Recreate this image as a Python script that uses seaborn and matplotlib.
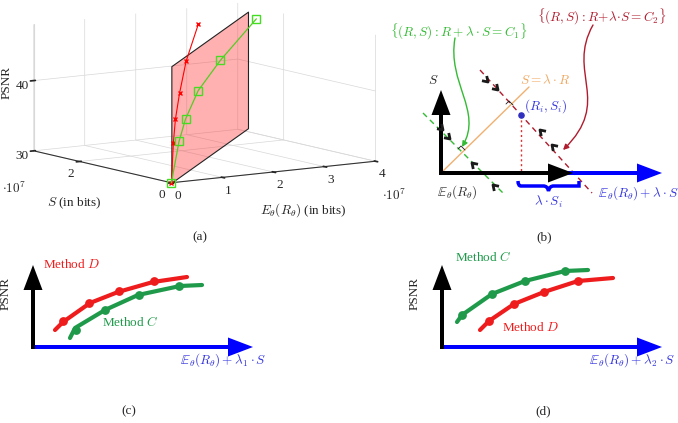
import numpy as np
import matplotlib
matplotlib.use("Agg")
import matplotlib.pyplot as plt
from matplotlib.markers import MarkerStyle
from matplotlib.path import Path
from matplotlib.patches import FancyArrowPatch, PathPatch
import seaborn as sns

sns.set_theme(style="white")
plt.rcParams['font.family'] = ['Liberation Serif', 'DejaVu Serif']
plt.rcParams['mathtext.fontset'] = 'cm'
plt.rcParams['font.size'] = 9.5
FS = 9.5

RED = '#ee1c1c'
GREEN = '#1f9a4a'
BLUE = '#0000ff'
TXT_BLUE = '#3535e0'

# ---- (a) 3D view, E and S in units of 1e7 bits
green_E = [0, 0.42, 0.79, 1.47, 2.68, 4.67]
green_S = [0, 0.30, 0.57, 1.05, 1.91, 3.34]
green_psnr = [30, 35.1, 37.6, 40.4, 42.5, 44.7]
red_E = [0, 0.04, 0.08, 0.16, 0.29, 0.53]
red_S = [0, 0, 0, 0, 0, 0]
red_psnr = [30, 35.7, 39.0, 42.6, 47.1, 52.2]
plane_E = [0, 4.2]
plane_S = [0, 3.0]
plane_psnr = [30, 46.6]

# ---- (b) schematic in the (R, S) plane
s_axis_end = (0, 83)
r_axis_end = (132, 0)
blue_axis_end = (221, 0)
orange_line = ([0, 88], [0, 86])
green_line = ([-18, 62], [60, -20])
red_line = ([39, 151], [103, -20])
point_i = (80, 58)
right_angles = [(21, 21), (69, 66)]
chev_down = [(2, 43), (9, 34), (47, 91), (57, 83)]
chev_up = [(31, 10), (52, -12), (99, 43), (111, 28)]
green_callout = [(14, 135), (6, 90), (42, 62), (21, 26)]
red_callout = [(152, 148), (125, 100), (172, 72), (122, 23)]
brace_x = (77, 138)

# ---- (c) and (d) sketches
c_red_x = [22, 30, 57, 85, 120, 154]
c_red_y = [17, 25, 44, 55, 65, 70]
c_red_dots_x = [30, 56, 86, 121]
c_red_dots_y = [26, 44, 56, 66]
c_green_x = [37, 42, 72, 105, 147, 169]
c_green_y = [9, 19, 37, 52, 61, 62]
c_green_dots_x = [43, 72, 106, 146]
c_green_dots_y = [17, 37, 52, 61]

d_green_x = [15, 20, 50, 83, 123, 146]
d_green_y = [25, 32, 53, 66, 76, 77]
d_green_dots_x = [20, 50, 83, 123]
d_green_dots_y = [32, 53, 66, 76]
d_red_x = [38, 47, 72, 102, 136, 171]
d_red_y = [17, 26, 43, 55, 66, 69]
d_red_dots_x = [47, 72, 102, 136]
d_red_dots_y = [26, 43, 55, 66]

W, H = 678, 423
fig = plt.figure(figsize=(W / 100, H / 100), dpi=100)


def px_axes(x0, y0, x1, y1, ox, oy):
    # axes covering pixel box (x0,y0)-(x1,y1), 1 data unit = 1 px, origin at (ox, oy)
    ax = fig.add_axes([x0 / W, 1 - y1 / H, (x1 - x0) / W, (y1 - y0) / H])
    ax.set_xlim(x0 - ox, x1 - ox)
    ax.set_ylim(oy - y1, oy - y0)
    ax.set_axis_off()
    return ax


def big_arrow(ax, start, end, color):
    ax.arrow(start[0], start[1], end[0] - start[0], end[1] - start[1], width=4,
             head_width=19, head_length=25, length_includes_head=True,
             color=color, lw=0, zorder=3)


# ---------------- (a)
ax3 = fig.add_axes([-0.013, 0.493, 0.62, 0.56], projection='3d', computed_zorder=False)
ax3.set_proj_type('ortho')
ax3.view_init(elev=9, azim=-124)
ax3.set_box_aspect((1, 1, 0.52), zoom=1.52)
ax3.set_xlim(0, 4)
ax3.set_ylim(0, 3)
ax3.set_zlim(30, 48)
for axis in (ax3.xaxis, ax3.yaxis, ax3.zaxis):
    axis.set_pane_color((1, 1, 1, 0))
    axis.pane.set_edgecolor('#d8d8d8')
    axis._axinfo['grid'].update(color='#d8d8d8', linewidth=0.5)
    axis.line.set_color('#333333')
    axis.line.set_linewidth(0.8)
ax3.zaxis.line.set_color('#d8d8d8')
ax3.grid(True)
ax3.set_xticks([0, 1, 2, 3, 4])
ax3.set_yticks([0, 2])
ax3.set_zticks([30, 40])
ax3.tick_params(labelsize=FS)
ax3.xaxis.set_tick_params(pad=-4)
ax3.yaxis.set_tick_params(pad=-4)
ax3.zaxis.set_tick_params(pad=-5)

pE = np.array([plane_E, plane_E])
pS = np.array([plane_S, plane_S])
pZ = np.array([[plane_psnr[0]] * 2, [plane_psnr[1]] * 2])
ax3.plot_surface(pE, pS, pZ, color=(1, 0.2, 0.2, 0.38), edgecolor='#222222',
                 linewidth=0.8, shade=False, zorder=2)
ax3.plot(red_E, red_S, red_psnr, color='red', lw=0.8, marker='x', ms=3.5, zorder=4)
ax3.plot(green_E, green_S, green_psnr, color='#55cc22', lw=0.9, marker='s', ms=6,
         mfc='none', mec='#44dd22', zorder=5)
fig.text(74 / W, 1 - 203 / H, r'$S$ (in bits)', ha='center', va='center', fontsize=FS)
fig.text(303 / W, 1 - 210 / H, r'$E_\theta(R_\theta)$ (in bits)', ha='center', va='center', fontsize=FS)
fig.text(7 / W, 1 - 82 / H, 'PSNR', rotation=90, ha='center', va='center', fontsize=FS)
fig.text(2 / W, 1 - 188 / H, r'$\cdot 10^7$', fontsize=FS, va='center')
fig.text(382 / W, 1 - 195 / H, r'$\cdot 10^7$', fontsize=FS, va='center')

# ---------------- (b)
axb = px_axes(397, 0, 678, 210, 441, 173)
big_arrow(axb, (0, 0), blue_axis_end, BLUE)
big_arrow(axb, (0, 0), r_axis_end, 'black')
big_arrow(axb, (0, -2), s_axis_end, 'black')
axb.plot(*orange_line, color='#f0b070', lw=1.0, zorder=2)
axb.plot(*green_line, color='#33bb33', lw=1.0, ls=(0, (4, 3)), zorder=2)
axb.plot(*red_line, color='#b01c2e', lw=1.0, ls=(0, (4, 3)), zorder=2)
axb.plot([point_i[0], point_i[0]], [point_i[1], 0], color='#e03030', lw=1.0,
         ls=(0, (1.5, 2)), zorder=2)
axb.scatter([point_i[0]], [point_i[1]], s=14, color='#3030c0', zorder=5)
for cx, cy in right_angles:
    axb.plot([cx - 4, cx - 1, cx + 3], [cy + 3, cy + 6, cy + 2], color='k', lw=0.6, zorder=2)
# open arrow-head chevrons pointing towards the S = lambda R line
chev = [(-1, 0.65), (0, 0), (-1, -0.65)]
for pts, ang in ((chev_down, -45), (chev_up, 135)):
    axb.scatter([p[0] for p in pts], [p[1] for p in pts],
                marker=MarkerStyle(chev, fillstyle='none').rotated(deg=ang),
                s=55, color='k', linewidths=2.0, zorder=4)
curve = [Path.MOVETO, Path.CURVE4, Path.CURVE4, Path.CURVE4]
axb.add_patch(FancyArrowPatch(path=Path(green_callout, curve), arrowstyle='-|>',
                              mutation_scale=8, color='#33bb33', lw=1.0, zorder=4))
axb.add_patch(FancyArrowPatch(path=Path(red_callout, curve), arrowstyle='-|>',
                              mutation_scale=8, color='#b01c2e', lw=1.0, zorder=4))
bx0, bx1 = brace_x
bm = (bx0 + bx1) / 2
brace = [(bx0, -8), (bx0, -13), (bx0 + 3, -13), (bx0 + 5, -13),
         (bm - 5, -13), (bm - 1, -13), (bm, -18), (bm + 1, -13), (bm + 5, -13),
         (bx1 - 5, -13), (bx1 - 3, -13), (bx1, -13), (bx1, -8)]
bcodes = [Path.MOVETO, Path.CURVE3, Path.CURVE3, Path.LINETO, Path.LINETO,
          Path.CURVE3, Path.CURVE3, Path.CURVE3, Path.CURVE3, Path.LINETO,
          Path.CURVE3, Path.CURVE3, Path.LINETO]
axb.add_patch(PathPatch(Path(brace, bcodes), fill=False, color=BLUE, lw=2.5, zorder=4))
axb.text(bm, -29, r'$\lambda\cdot S_i$', color=TXT_BLUE, ha='center', va='center', fontsize=FS)
axb.text(16, -19, r'$\mathbb{E}_\theta(R_\theta)$', color='#333333', ha='center', va='center', fontsize=FS)
axb.text(157, -20, r'$\mathbb{E}_\theta(R_\theta) + \lambda\cdot S$', color=TXT_BLUE,
         ha='left', va='center', fontsize=FS)
axb.text(-8, 93, r'$S$', ha='center', va='center', fontsize=FS)
axb.text(79, 93, r'$S = \lambda\cdot R$', color='#f0a860', ha='left', va='center', fontsize=FS)
axb.text(83, 67, r'$(R_i, S_i)$', color=TXT_BLUE, ha='left', va='center', fontsize=FS)
axb.text(18, 141, r'$\{(R,S) : R + \lambda\cdot S = C_1\}$', color='#33bb33',
         ha='center', va='center', fontsize=FS)
axb.text(161, 156, r'$\{(R,S) : R\!+\!\lambda\!\cdot\! S = C_2\}$', color='#b01c2e',
         ha='center', va='center', fontsize=FS)


# ---------------- (c) and (d)
def sketch(ax, first, second, xlab):
    for xs, ys, dx, dy, col in (first, second):
        sns.lineplot(x=xs, y=ys, ax=ax, color=col, lw=3, sort=False, zorder=2)
        sns.scatterplot(x=dx, y=dy, ax=ax, color=col, s=40, linewidth=0, zorder=3)
    big_arrow(ax, (0, 0), (220, 0), BLUE)
    big_arrow(ax, (0, -2), (0, 82), 'black')
    ax.text(-27, 54, 'PSNR', rotation=90, ha='center', va='center', fontsize=FS)
    ax.text(147, -13, xlab, color=TXT_BLUE, ha='left', va='center', fontsize=FS)


axc = px_axes(0, 240, 340, 400, 33, 347)
sketch(axc, (c_red_x, c_red_y, c_red_dots_x, c_red_dots_y, RED),
       (c_green_x, c_green_y, c_green_dots_x, c_green_dots_y, GREEN),
       r'$\mathbb{E}_\theta(R_\theta) + \lambda_1\cdot S$')
axc.text(10, 83, r'Method $D$', color=RED, ha='left', va='center', fontsize=FS)
axc.text(69, 25, r'Method $C$', color=GREEN, ha='left', va='center', fontsize=FS)

axd = px_axes(340, 240, 678, 400, 442, 347)
sketch(axd, (d_green_x, d_green_y, d_green_dots_x, d_green_dots_y, GREEN),
       (d_red_x, d_red_y, d_red_dots_x, d_red_dots_y, RED),
       r'$\mathbb{E}_\theta(R_\theta) + \lambda_2\cdot S$')
axd.text(13, 90, r'Method $C$', color=GREEN, ha='left', va='center', fontsize=FS)
axd.text(60, 20, r'Method $D$', color=RED, ha='left', va='center', fontsize=FS)

for label, x, y in (('(a)', 200, 237), ('(b)', 544, 237), ('(c)', 129, 411), ('(d)', 543, 411)):
    fig.text(x / W, 1 - y / H, label, ha='center', va='center', fontsize=FS)

fig.savefig('out.png', dpi=100)
